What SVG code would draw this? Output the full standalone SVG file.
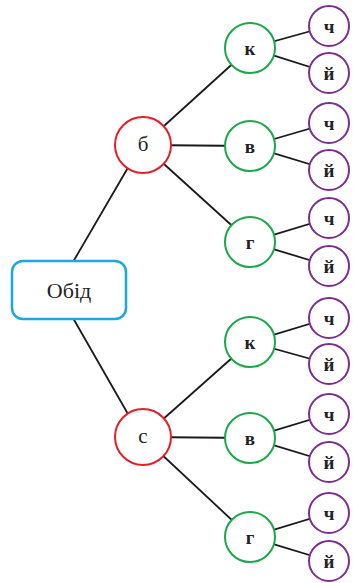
<svg xmlns="http://www.w3.org/2000/svg" width="353" height="583" viewBox="0 0 353 583">
<style>
.ln{stroke:#1a1a1a;stroke-width:1.8;fill:none}
.root{fill:#fff;stroke:#1ba7e1;stroke-width:2.5}
.red{fill:#fff;stroke:#e3202a;stroke-width:2}
.grn{fill:#fff;stroke:#1aa84a;stroke-width:2}
.pur{fill:#fff;stroke:#7a2e90;stroke-width:2}
text{font-family:"Liberation Serif","DejaVu Serif",serif;fill:#222;text-anchor:middle;dominant-baseline:central}
.t1{font-size:22px}
.t2{font-size:21px}
.t3{font-size:19px;font-weight:bold}
</style>
<rect width="353" height="583" fill="#fff"/>
<g id="connectors">
<line class="ln" x1="73" y1="262" x2="140" y2="147"/>
<line class="ln" x1="73" y1="318" x2="140" y2="435"/>
<line class="ln" x1="143" y1="145" x2="250" y2="48"/>
<line class="ln" x1="143" y1="145" x2="250" y2="146"/>
<line class="ln" x1="143" y1="145" x2="250" y2="242"/>
<line class="ln" x1="143" y1="437" x2="250" y2="342"/>
<line class="ln" x1="143" y1="437" x2="250" y2="438"/>
<line class="ln" x1="143" y1="437" x2="250" y2="537"/>
<line class="ln" x1="250" y1="48" x2="329" y2="26"/>
<line class="ln" x1="250" y1="48" x2="329" y2="73"/>
<line class="ln" x1="250" y1="146" x2="329" y2="123"/>
<line class="ln" x1="250" y1="146" x2="329" y2="170"/>
<line class="ln" x1="250" y1="242" x2="329" y2="218"/>
<line class="ln" x1="250" y1="242" x2="329" y2="266"/>
<line class="ln" x1="250" y1="342" x2="329" y2="318"/>
<line class="ln" x1="250" y1="342" x2="329" y2="364"/>
<line class="ln" x1="250" y1="438" x2="329" y2="414"/>
<line class="ln" x1="250" y1="438" x2="329" y2="462"/>
<line class="ln" x1="250" y1="537" x2="329" y2="513"/>
<line class="ln" x1="250" y1="537" x2="329" y2="561"/>
</g>
<g id="n-root"><rect class="root" x="12" y="261" width="114" height="58" rx="11"/><text class="t1" x="69" y="290">Обід</text></g>
<g id="n-b"><circle class="red" cx="143" cy="145" r="28"/><text class="t2" x="143" y="144">б</text></g>
<g id="n-s"><circle class="red" cx="143" cy="437" r="28"/><text class="t2" x="143" y="436">с</text></g>
<g id="n-b-k"><circle class="grn" cx="250" cy="48" r="25"/><text class="t3" x="250" y="48">к</text></g>
<g id="n-b-v"><circle class="grn" cx="250" cy="146" r="25"/><text class="t3" x="250" y="146">в</text></g>
<g id="n-b-g"><circle class="grn" cx="250" cy="242" r="25"/><text class="t3" x="250" y="242">г</text></g>
<g id="n-s-k"><circle class="grn" cx="250" cy="342" r="25"/><text class="t3" x="250" y="342">к</text></g>
<g id="n-s-v"><circle class="grn" cx="250" cy="438" r="25"/><text class="t3" x="250" y="438">в</text></g>
<g id="n-s-g"><circle class="grn" cx="250" cy="537" r="25"/><text class="t3" x="250" y="537">г</text></g>
<g id="n-b-k-ch"><circle class="pur" cx="329" cy="26" r="20"/><text class="t3" x="329" y="26">ч</text></g>
<g id="n-b-k-y"><circle class="pur" cx="329" cy="73" r="20"/><text class="t3" x="329" y="73">й</text></g>
<g id="n-b-v-ch"><circle class="pur" cx="329" cy="123" r="20"/><text class="t3" x="329" y="123">ч</text></g>
<g id="n-b-v-y"><circle class="pur" cx="329" cy="170" r="20"/><text class="t3" x="329" y="170">й</text></g>
<g id="n-b-g-ch"><circle class="pur" cx="329" cy="218" r="20"/><text class="t3" x="329" y="218">ч</text></g>
<g id="n-b-g-y"><circle class="pur" cx="329" cy="266" r="20"/><text class="t3" x="329" y="266">й</text></g>
<g id="n-s-k-ch"><circle class="pur" cx="329" cy="318" r="20"/><text class="t3" x="329" y="318">ч</text></g>
<g id="n-s-k-y"><circle class="pur" cx="329" cy="364" r="20"/><text class="t3" x="329" y="364">й</text></g>
<g id="n-s-v-ch"><circle class="pur" cx="329" cy="414" r="20"/><text class="t3" x="329" y="414">ч</text></g>
<g id="n-s-v-y"><circle class="pur" cx="329" cy="462" r="20"/><text class="t3" x="329" y="462">й</text></g>
<g id="n-s-g-ch"><circle class="pur" cx="329" cy="513" r="20"/><text class="t3" x="329" y="513">ч</text></g>
<g id="n-s-g-y"><circle class="pur" cx="329" cy="561" r="20"/><text class="t3" x="329" y="561">й</text></g>
</svg>
